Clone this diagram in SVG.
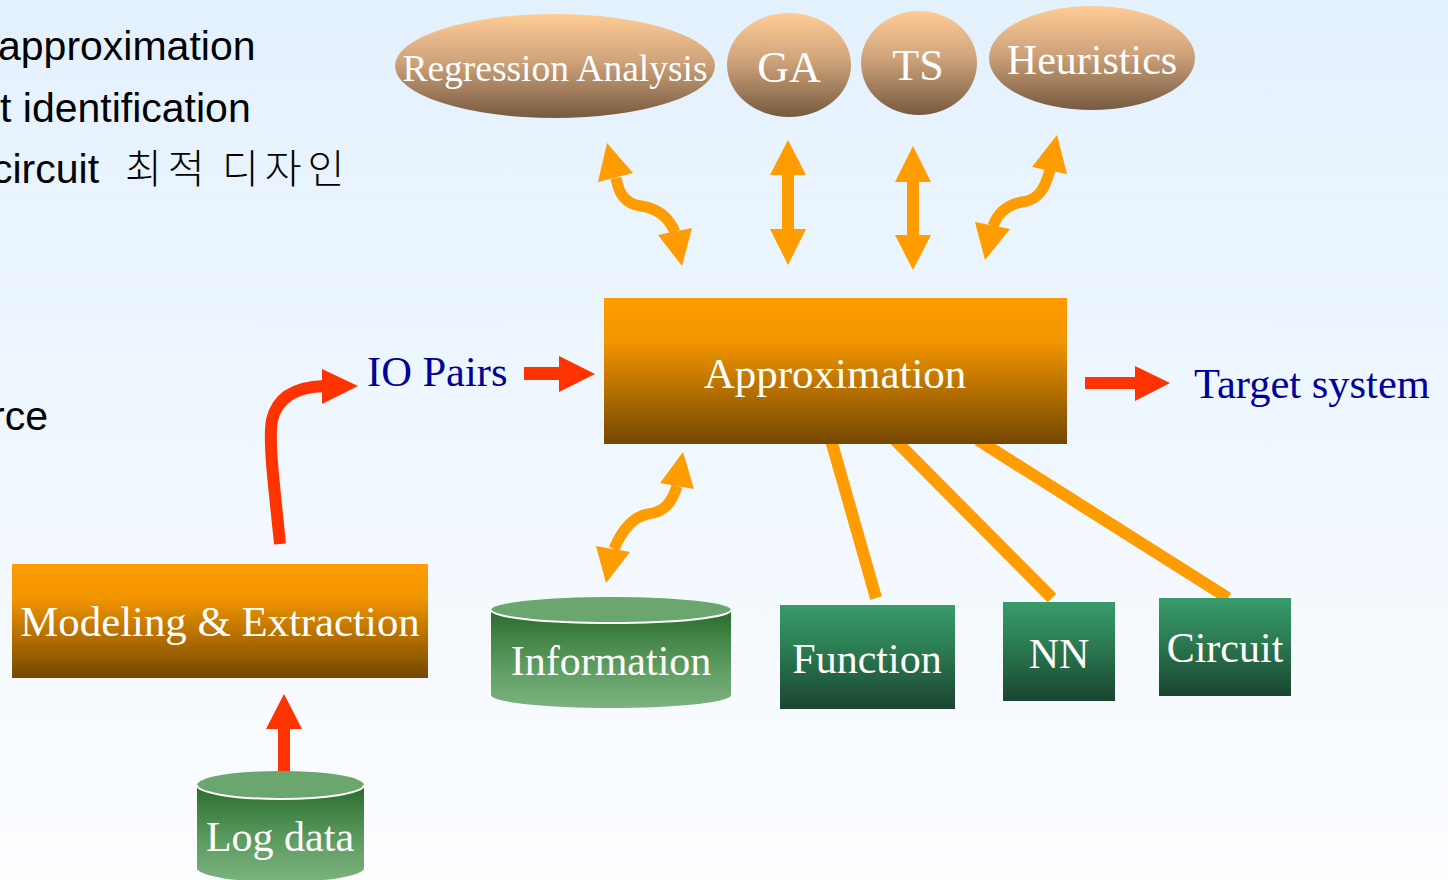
<svg xmlns="http://www.w3.org/2000/svg" width="1448" height="880" viewBox="0 0 1448 880">
<defs>
<linearGradient id="bg" x1="0" y1="0" x2="0" y2="1"><stop offset="0" stop-color="#e3f1fd"/><stop offset="1" stop-color="#fcfdff"/></linearGradient>
<linearGradient id="ell" x1="0" y1="0" x2="0" y2="1"><stop offset="0" stop-color="#ffcc96"/><stop offset="0.45" stop-color="#cfa47b"/><stop offset="1" stop-color="#765a40"/></linearGradient>
<linearGradient id="org" x1="0" y1="0" x2="0" y2="1"><stop offset="0" stop-color="#ff9c00"/><stop offset="0.3" stop-color="#f19500"/><stop offset="1" stop-color="#744700"/></linearGradient>
<linearGradient id="grn" x1="0" y1="0" x2="0" y2="1"><stop offset="0" stop-color="#389b6b"/><stop offset="0.35" stop-color="#2e8257"/><stop offset="1" stop-color="#1a4530"/></linearGradient>
<linearGradient id="cyl" x1="0" y1="0" x2="0" y2="1"><stop offset="0" stop-color="#2a6c2d"/><stop offset="0.6" stop-color="#5f9e63"/><stop offset="1" stop-color="#7cb27f"/></linearGradient>
<style>
.lbl{font-family:"Liberation Serif","Times New Roman",serif;fill:#ffffff;text-anchor:middle}
.blue{font-family:"Liberation Serif","Times New Roman",serif;fill:#000099}
.side{font-family:"Liberation Sans","Noto Sans CJK KR",sans-serif;font-size:41px;fill:#000000}
.kr{font-family:"Noto Sans CJK KR",sans-serif;font-size:40px;font-weight:300;letter-spacing:6px}
.oa{fill:#ff9c00}
.ow{fill:none;stroke:#ff9c00;stroke-width:11}
.ol{stroke:#ff9c00;stroke-width:12;stroke-linecap:butt}
.ra{fill:#ff3300}
.rw{fill:none;stroke:#ff3300;stroke-width:12}
.ctop{fill:#6aa66d}
.cedge{fill:none;stroke:#ffffff;stroke-width:2}
</style>
</defs>
<rect x="0" y="0" width="1448" height="880" fill="url(#bg)"/>

<g id="side-text">
<text class="side" x="-2" y="60">approximation</text>
<text class="side" x="0" y="122" font-size="42">t identification</text>
<text class="side" x="-8" y="183">circuit<tspan class="kr" x="125">최적</tspan><tspan class="kr" x="222">디자인</tspan></text>
<text class="side" x="48" y="430" text-anchor="end">rce</text>
</g>

<g id="connectors">
<path class="ow" d="M616,178 C619,195 626,204 641,206 C656,208 668,216 675,232"/>
<polygon class="oa" points="607,143 633,173 598,182"/>
<polygon class="oa" points="682,266 658,235 692,228"/>
<polygon class="oa" points="788,140 806,175 794,175 794,229 806,229 788,265 770,229 782,229 782,175 770,175"/>
<polygon class="oa" points="913,146 931,182 919,182 919,235 931,235 913,270 895,235 907,235 907,182 895,182"/>
<path class="ow" d="M1050,170 C1045,188 1039,200 1022,202 C1005,205 997,215 993,226"/>
<polygon class="oa" points="1057,135 1067,174 1032,167"/>
<polygon class="oa" points="985,260 975,222 1010,229"/>
<path class="ow" d="M677,486 C672,502 665,512 648,514 C632,517 622,530 614,549"/>
<polygon class="oa" points="683,452 694,489 660,483"/>
<polygon class="oa" points="606,583 596,546 630,552"/>
<line class="ol" x1="831" y1="440" x2="876" y2="598"/>
<line class="ol" x1="895" y1="440" x2="1052" y2="598"/>
<line class="ol" x1="978" y1="440" x2="1228" y2="598"/>
<polygon class="ra" points="524,367 559,367 559,356 595,374 559,392 559,380 524,380"/>
<polygon class="ra" points="1085,377 1135,377 1135,366 1170,383 1135,401 1135,389 1085,389"/>
<path class="rw" d="M280,544 C275,492 268,442 272,420 C277,398 295,387 324,386"/>
<polygon class="ra" points="358,386 322,369 322,404"/>
<polygon class="ra" points="284,694 302,729 290,729 290,774 278,774 278,729 266,729"/>
</g>

<g id="regression">
<ellipse cx="555" cy="66" rx="160" ry="52" fill="url(#ell)"/>
<text class="lbl" x="555" y="81" font-size="37.5">Regression Analysis</text>
</g>
<g id="ga">
<ellipse cx="789" cy="65" rx="62" ry="52" fill="url(#ell)"/>
<text class="lbl" x="789" y="82" font-size="44">GA</text>
</g>
<g id="ts">
<ellipse cx="919" cy="63" rx="58" ry="52" fill="url(#ell)"/>
<text class="lbl" x="918" y="80" font-size="44">TS</text>
</g>
<g id="heuristics">
<ellipse cx="1092" cy="58" rx="103" ry="52" fill="url(#ell)"/>
<text class="lbl" x="1092" y="74" font-size="42">Heuristics</text>
</g>

<g id="approximation">
<rect x="604" y="298" width="463" height="146" fill="url(#org)"/>
<text class="lbl" x="835" y="388" font-size="43">Approximation</text>
</g>

<g id="io-pairs">
<text class="blue" x="367" y="386" font-size="42.5">IO Pairs</text>
</g>
<g id="target-system">
<text class="blue" x="1194" y="398" font-size="42.5">Target system</text>
</g>

<g id="modeling">
<rect x="12" y="564" width="416" height="114" fill="url(#org)"/>
<text class="lbl" x="220" y="636" font-size="42.8">Modeling &amp; Extraction</text>
</g>

<g id="information">
<path d="M491,610 L491,695 A120,13 0 0 0 731,695 L731,610 Z" fill="url(#cyl)"/>
<ellipse class="ctop" cx="611" cy="610" rx="120" ry="13"/>
<path class="cedge" d="M491,610 A120,13 0 0 0 731,610"/>
<text class="lbl" x="611" y="675" font-size="42">Information</text>
</g>

<g id="log-data">
<path d="M197,785 L197,868 A83.5,14 0 0 0 364,868 L364,785 Z" fill="url(#cyl)"/>
<ellipse class="ctop" cx="280.5" cy="785" rx="83.5" ry="14"/>
<path class="cedge" d="M197,785 A83.5,14 0 0 0 364,785"/>
<text class="lbl" x="280" y="851" font-size="42">Log data</text>
</g>

<g id="function">
<rect x="780" y="605" width="175" height="104" fill="url(#grn)"/>
<text class="lbl" x="867" y="673" font-size="42">Function</text>
</g>
<g id="nn">
<rect x="1003" y="602" width="112" height="99" fill="url(#grn)"/>
<text class="lbl" x="1059" y="668" font-size="42">NN</text>
</g>
<g id="circuit">
<rect x="1159" y="598" width="132" height="98" fill="url(#grn)"/>
<text class="lbl" x="1225" y="662" font-size="42">Circuit</text>
</g>
</svg>
